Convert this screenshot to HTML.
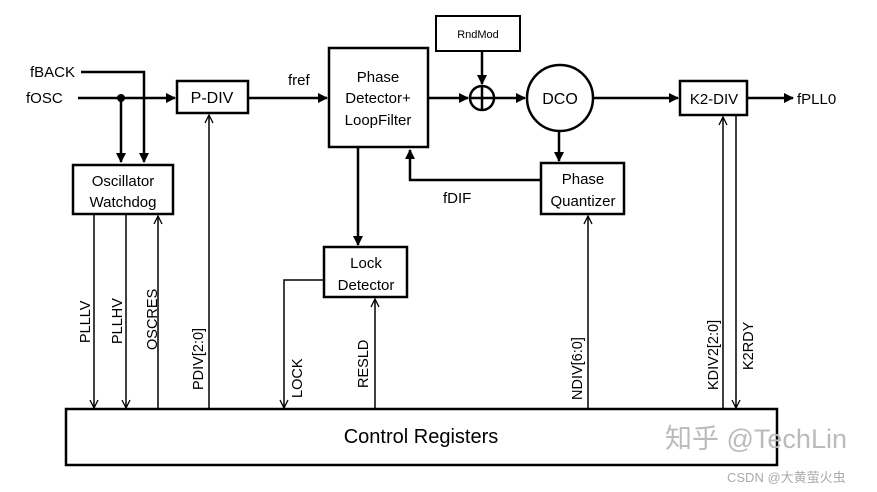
<!DOCTYPE html>
<html><head><meta charset="utf-8"><style>
html,body{margin:0;padding:0;background:#fff;width:877px;height:492px;overflow:hidden}
svg{display:block}
text{font-family:"Liberation Sans","Noto Sans CJK SC",sans-serif;fill:#000}
</style></head><body>
<svg width="877" height="492" viewBox="0 0 877 492">
<defs>
<marker id="a" markerWidth="10" markerHeight="10" refX="9" refY="5" orient="auto" markerUnits="userSpaceOnUse"><path d="M0,0 L10,5 L0,10 z" fill="#000"/></marker>
<marker id="o" markerWidth="10" markerHeight="10" refX="9" refY="5" orient="auto" markerUnits="userSpaceOnUse"><path d="M1,1 L9,5 L1,9" fill="none" stroke="#000" stroke-width="1.3"/></marker>
</defs>
<g fill="none" stroke="#000" stroke-width="2.5">
<rect x="177" y="81" width="71" height="32"/>
<rect x="329" y="48" width="99" height="99"/>
<rect x="73" y="165" width="100" height="49"/>
<rect x="324" y="247" width="83" height="50"/>
<rect x="436" y="16" width="84" height="35" stroke-width="2"/>
<circle cx="482" cy="98" r="12"/>
<circle cx="560" cy="98" r="33"/>
<rect x="680" y="81" width="67" height="34"/>
<rect x="541" y="163" width="83" height="51"/>
<rect x="66" y="409" width="711" height="56"/>
</g>
<g stroke="#000" stroke-width="2.5" fill="none">
<path d="M470 98 H494 M482 86 V110"/>
<path d="M81 72 H144 V162" marker-end="url(#a)"/>
<path d="M78 98 H175" marker-end="url(#a)"/>
<path d="M121 98 V162" marker-end="url(#a)"/>
<path d="M248 98 H327" marker-end="url(#a)"/>
<path d="M428 98 H468" marker-end="url(#a)"/>
<path d="M482 51 V84" marker-end="url(#a)"/>
<path d="M494 98 H525" marker-end="url(#a)"/>
<path d="M593 98 H678" marker-end="url(#a)"/>
<path d="M747 98 H793" marker-end="url(#a)"/>
<path d="M559 131 V161" marker-end="url(#a)"/>
<path d="M358 147 V245" marker-end="url(#a)"/>
<path d="M541 180 H410 V150" marker-end="url(#a)"/>
</g>
<circle cx="121" cy="98" r="4" fill="#000"/>
<g stroke="#000" stroke-width="1.5" fill="none">
<path d="M94 214 V408" marker-end="url(#o)"/>
<path d="M126 214 V408" marker-end="url(#o)"/>
<path d="M158 409 V216" marker-end="url(#o)"/>
<path d="M209 409 V115" marker-end="url(#o)"/>
<path d="M324 280 H284 V408" marker-end="url(#o)"/>
<path d="M375 409 V299" marker-end="url(#o)"/>
<path d="M588 409 V216" marker-end="url(#o)"/>
<path d="M723 409 V117" marker-end="url(#o)"/>
<path d="M736 115 V408" marker-end="url(#o)"/>
</g>
<g font-size="15">
<text x="30" y="77">fBACK</text>
<text x="26" y="103">fOSC</text>
<text x="212" y="103" text-anchor="middle" font-size="16">P-DIV</text>
<text x="288" y="85">fref</text>
<text x="378" y="82" text-anchor="middle">Phase</text>
<text x="378" y="103" text-anchor="middle">Detector+</text>
<text x="378" y="125" text-anchor="middle">LoopFilter</text>
<text x="123" y="186" text-anchor="middle">Oscillator</text>
<text x="123" y="207" text-anchor="middle">Watchdog</text>
<text x="478" y="38" text-anchor="middle" font-size="11">RndMod</text>
<text x="560" y="104" text-anchor="middle" font-size="16">DCO</text>
<text x="714" y="104" text-anchor="middle">K2-DIV</text>
<text x="797" y="104">fPLL0</text>
<text x="583" y="184" text-anchor="middle">Phase</text>
<text x="583" y="206" text-anchor="middle">Quantizer</text>
<text x="443" y="203">fDIF</text>
<text x="366" y="268" text-anchor="middle">Lock</text>
<text x="366" y="290" text-anchor="middle">Detector</text>
<text x="421" y="443" text-anchor="middle" font-size="20">Control Registers</text>
</g>
<g font-size="14.5">
<text transform="translate(90,343) rotate(-90)">PLLLV</text>
<text transform="translate(122,344) rotate(-90)">PLLHV</text>
<text transform="translate(157,350) rotate(-90)">OSCRES</text>
<text transform="translate(203,390) rotate(-90)">PDIV[2:0]</text>
<text transform="translate(302,398) rotate(-90)">LOCK</text>
<text transform="translate(368,388) rotate(-90)">RESLD</text>
<text transform="translate(582,400) rotate(-90)">NDIV[6:0]</text>
<text transform="translate(718,390) rotate(-90)">KDIV2[2:0]</text>
<text transform="translate(753,370) rotate(-90)">K2RDY</text>
</g>
<text x="665" y="448" font-size="27" style="fill:#bbb">知乎 @TechLin</text>
<text x="727" y="482" font-size="13" style="fill:#aaa">CSDN @大黄萤火虫</text>
</svg>
</body></html>
